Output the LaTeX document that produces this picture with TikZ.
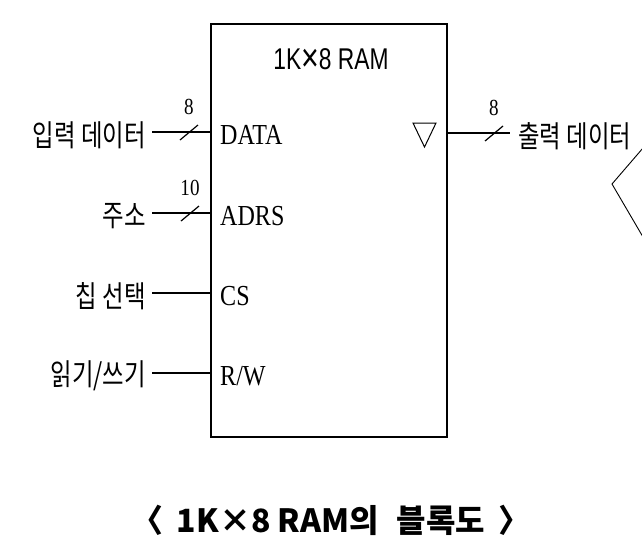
\documentclass[tikz,border=0pt]{standalone}
\usepackage{fontspec}
\newfontfamily\krfont[FakeStretch=0.78]{Noto Sans CJK KR}
\newfontfamily\capfont{Noto Sans CJK KR}
\newfontfamily\pinfont[FakeStretch=0.83]{Liberation Serif}
\newfontfamily\ttlfont[FakeStretch=0.76]{Liberation Sans}
\usetikzlibrary{calc}

\begin{document}
\begin{tikzpicture}[x=1pt,y=-1pt, every node/.style={inner sep=0pt},
    wire/.style={line width=1.2pt},
    lbl/.style={font=\krfont\fontsize{30}{30}\selectfont},
    pinlbl/.style={font=\pinfont\fontsize{29}{29}\selectfont},
    num/.style={font=\pinfont\fontsize{23}{23}\selectfont}]
  \useasboundingbox (0,0) rectangle (642,550);
  % block
  \node[draw, line width=1.3pt, minimum width=236pt, minimum height=413pt] (ram) at (329,230.5) {};
  \node[font=\ttlfont\fontsize{30}{30}\selectfont] (ttl) at (331,60)
    {1K\raisebox{-2.5pt}{\fontsize{40}{40}\selectfont ×}8 RAM};
  % input helper: y, name, pin, label
  \newcommand{\inwire}[4]{%
    \coordinate (#2) at (152,#1);
    \node[lbl, anchor=east] (#2l) at (146,#1+3) {#4};
    \node[pinlbl, anchor=base west] (#2p) at (220,#1+12.5) {#3};
    \draw[wire] (#2) -- (#2 -| ram.west);}
  \newcommand{\busmark}[4]{\draw[wire] (#1,#2)++(-9,8) -- ++(18,-15); \node[num] (#4) at (#1,#2-25) {#3};}
  \inwire{132}{data}{DATA}{입력 데이터}
  \inwire{213}{adrs}{ADRS}{주소}
  \inwire{293}{cs}{CS}{칩 선택}
  \inwire{373}{rw}{R/W}{읽기/쓰기}
  \busmark{189}{132}{8}{wd}
  \busmark{190}{213}{10}{wa}
  % output
  \coordinate (q) at (510,133);
  \draw[wire] (q -| ram.east) -- (q);
  \busmark{494}{133}{8}{wq}
  \node[lbl, anchor=west] (outl) at (518,136) {출력 데이터};
  \draw[line width=1pt] (413,123) -- (436,123) -- (424.5,147) -- cycle;
  % cut-off bracket at right edge
  \draw[line width=0.9pt] (643,148) -- (612,184) -- (643,237);
  % caption
  \node[font=\capfont\bfseries\fontsize{32}{32}\selectfont] (cap) at (331,520)
    {〈\hspace{13pt}1K×8 RAM의\hspace{18pt}블록도\hspace{13pt}〉};
\end{tikzpicture}
\end{document}
